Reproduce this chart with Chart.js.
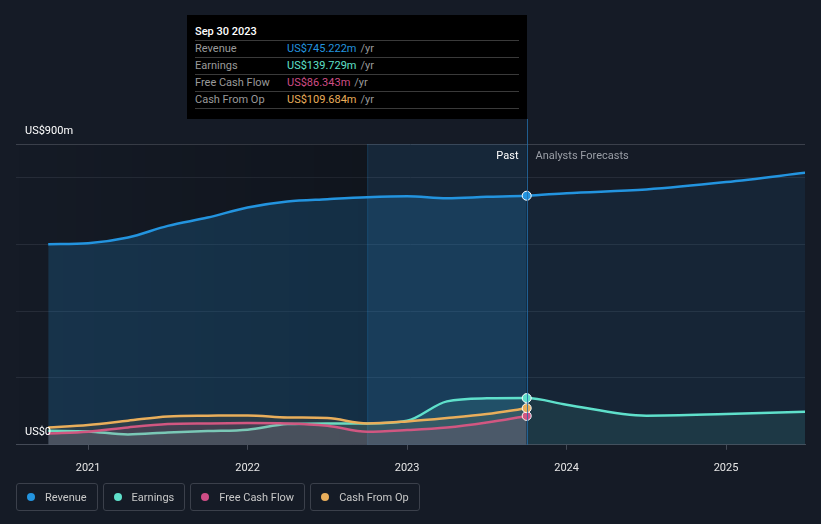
<!DOCTYPE html>
<html>
<head>
<meta charset="utf-8">
<script src="https://cdn.jsdelivr.net/npm/chart.js@4.4.0/dist/chart.umd.min.js"></script>
<style>
  body { margin: 0; background: #151b26; font-family: Roboto, "Noto Sans", sans-serif; }
  #wrap { position: relative; width: 821px; height: 524px; overflow: hidden; }
  #chart { position: absolute; left: 0; top: 0; }
  #tip { position: absolute; left: 187px; top: 15px; width: 340px; height: 104px; background: #000; box-sizing: border-box; padding: 8px 8px 0 8px; font-size: 11px; }
  #tip .title { color: #fff; font-weight: 500; height: 17px; line-height: 17px; border-bottom: 1px solid #3a3a3a; }
  #tip .row { height: 16px; line-height: 16px; border-bottom: 1px solid #3a3a3a; color: #9a9a9a; display: flex; }
  #tip .row span.l { width: 92px; }
  #tip .row span.u { color: #9a9a9a; margin-left: 4px; }
  #legend { position: absolute; left: 16px; top: 483px; display: flex; gap: 5px; }
  .item { border: 1px solid #3b404b; border-radius: 3px; height: 28px; box-sizing: border-box; padding: 0 10px 0 10px; display: flex; align-items: center; color: #c8c8c8; font-size: 11px; }
  .dot { width: 8px; height: 8px; border-radius: 50%; margin-right: 10px; }
</style>
</head>
<body>
<div id="wrap">
  <canvas id="chart" width="821" height="488"></canvas>
  <div id="tip"></div>
  <div id="legend"></div>
</div>
<script>
const pastDates = [2020.75, 2021.0, 2021.25, 2021.5, 2021.75, 2022.0, 2022.25, 2022.5, 2022.75, 2023.0, 2023.25, 2023.5, 2023.75];
const forecastDates = [2024.0, 2024.5, 2025.0, 2025.5];

const revenuePast = [600, 603, 620, 655, 680, 710, 728, 735, 741, 744, 738, 742, 745.222];
const earningsPast = [42, 40, 31, 37, 41, 45, 62, 64, 64, 72, 130, 139, 139.729];
const fcfPast = [34, 39, 52, 62, 64, 65, 64, 57, 39, 44, 52, 67, 86.343];
const cfoPast = [52, 59, 72, 85, 87, 88, 82, 80, 64, 70, 80, 92, 109.684];

const revenueForecast = [753, 764, 786, 814];
const earningsForecast = [120, 87, 92, 99];

const yTicks = [0, 200, 400, 600, 800, 900];
const xTicks = [2021, 2022, 2023, 2024, 2025];

const seriesNames = ['Revenue', 'Earnings', 'Free Cash Flow', 'Cash From Op'];
const seriesColors = ['#2394df', '#5fe0cb', '#cf4d86', '#e9ae5b'];
const tipTitle = 'Sep 30 2023';
const tipValues = ['US$745.222m', 'US$139.729m', 'US$86.343m', 'US$109.684m'];

const nowX = 2023.75;
const bandStart = 2022.75;

const toPts = (xs, ys) => xs.map((x, i) => ({ x: x, y: ys[i] }));

const revenuePts = toPts(pastDates, revenuePast).concat(toPts(forecastDates, revenueForecast));
const earningsPts = toPts(pastDates, earningsPast).concat(toPts(forecastDates, earningsForecast));

// only mark the current point
const markRadius = (ctx) => (ctx.raw && ctx.raw.x === nowX ? 4.5 : 0);

const fillSeg = (past, future) => ({
  backgroundColor: (c) => (c.p0.parsed.x >= nowX ? future : past)
});

const bgPlugin = {
  id: 'bg',
  beforeDatasetsDraw(chart) {
    const { ctx, chartArea: a, scales: { x } } = chart;
    const xb = x.getPixelForValue(bandStart);
    const xn = x.getPixelForValue(nowX);
    ctx.save();
    const g = ctx.createLinearGradient(a.left, 0, xb, 0);
    g.addColorStop(0, 'rgba(0,0,0,0)');
    g.addColorStop(1, 'rgba(0,0,0,0.22)');
    ctx.fillStyle = g;
    ctx.fillRect(a.left, a.top, xb - a.left, a.bottom - a.top);
    ctx.fillStyle = 'rgba(35,148,223,0.10)';
    ctx.fillRect(xb, a.top, xn - xb, a.bottom - a.top);
    ctx.fillStyle = 'rgba(35,148,223,0.18)';
    ctx.fillRect(xb, a.top, 1, a.bottom - a.top);
    ctx.restore();
  },
  afterDatasetsDraw(chart) {
    const { ctx, chartArea: a, scales: { x, y } } = chart;
    const xn = Math.round(x.getPixelForValue(nowX)) + 0.5;
    ctx.save();
    ctx.strokeStyle = 'rgba(35,110,170,0.8)';
    ctx.lineWidth = 1;
    ctx.beginPath();
    ctx.moveTo(xn, 119);
    ctx.lineTo(xn, a.bottom);
    ctx.stroke();
    ctx.font = '11px Roboto, sans-serif';
    ctx.textBaseline = 'middle';
    ctx.textAlign = 'right';
    ctx.fillStyle = '#ffffff';
    ctx.fillText('Past', xn - 9, a.top + 12);
    ctx.textAlign = 'left';
    ctx.fillStyle = '#9a9ea6';
    ctx.fillText('Analysts Forecasts', xn + 8, a.top + 12);
    ctx.fillStyle = '#ffffff';
    ctx.fillText('US$900m', 25, y.getPixelForValue(900) - 13);
    ctx.fillText('US$0', 25, y.getPixelForValue(0) - 13);
    ctx.restore();
  }
};

new Chart(document.getElementById('chart'), {
  type: 'line',
  data: {
    datasets: [
      {
        label: 'Revenue', data: revenuePts, borderColor: seriesColors[0], borderWidth: 2.5,
        fill: 'origin', backgroundColor: 'rgba(35,148,223,0.2)',
        segment: fillSeg('rgba(35,148,223,0.2)', 'rgba(35,148,223,0.09)'),
        pointRadius: markRadius, pointBackgroundColor: seriesColors[0], pointBorderColor: '#fff', pointBorderWidth: 1
      },
      {
        label: 'Earnings', data: earningsPts, borderColor: seriesColors[1], borderWidth: 2.5,
        fill: 'origin', backgroundColor: 'rgba(95,224,203,0.12)',
        segment: fillSeg('rgba(95,224,203,0.12)', 'rgba(95,224,203,0.1)'),
        pointRadius: markRadius, pointBackgroundColor: seriesColors[1], pointBorderColor: '#fff', pointBorderWidth: 1
      },
      {
        label: 'Free Cash Flow', data: toPts(pastDates, fcfPast), borderColor: seriesColors[2], borderWidth: 2.5,
        fill: 'origin', backgroundColor: 'rgba(207,77,134,0.14)',
        pointRadius: markRadius, pointBackgroundColor: seriesColors[2], pointBorderColor: '#fff', pointBorderWidth: 1
      },
      {
        label: 'Cash From Op', data: toPts(pastDates, cfoPast), borderColor: seriesColors[3], borderWidth: 2.5,
        fill: 'origin', backgroundColor: 'rgba(233,174,91,0.1)',
        pointRadius: markRadius, pointBackgroundColor: seriesColors[3], pointBorderColor: '#fff', pointBorderWidth: 1
      }
    ].reverse()
  },
  options: {
    responsive: false,
    animation: false,
    layout: { padding: { top: 144, left: 16, right: 16, bottom: 1 } },
    plugins: { legend: { display: false }, tooltip: { enabled: false } },
    elements: { line: { cubicInterpolationMode: 'monotone' } },
    scales: {
      x: {
        type: 'linear', min: 2020.548, max: 2025.495,
        afterBuildTicks: (s) => { s.ticks = xTicks.map((v) => ({ value: v })); },
        grid: { drawOnChartArea: false, color: '#444a56', tickLength: 5 },
        border: { color: '#444a56' },
        ticks: { color: '#e6e6e6', padding: 12, font: { family: 'Roboto', size: 11 }, callback: (v) => String(v) }
      },
      y: {
        min: 0, max: 900,
        afterBuildTicks: (s) => { s.ticks = yTicks.map((v) => ({ value: v })); },
        grid: { drawTicks: false, color: (c) => (c.tick && c.tick.value === 900 ? '#3b404b' : '#262c38') },
        border: { display: false },
        ticks: { display: false }
      }
    }
  },
  plugins: [bgPlugin]
});

const tip = document.getElementById('tip');
let html = '<div class="title">' + tipTitle + '</div>';
seriesNames.forEach((n, i) => {
  html += '<div class="row"><span class="l">' + n + '</span><span style="color:' + seriesColors[i] + '">' + tipValues[i] + '</span><span class="u">/yr</span></div>';
});
tip.innerHTML = html;

const legend = document.getElementById('legend');
seriesNames.forEach((n, i) => {
  const d = document.createElement('div');
  d.className = 'item';
  d.innerHTML = '<span class="dot" style="background:' + seriesColors[i] + '"></span>' + n;
  legend.appendChild(d);
});
</script>
</body>
</html>
